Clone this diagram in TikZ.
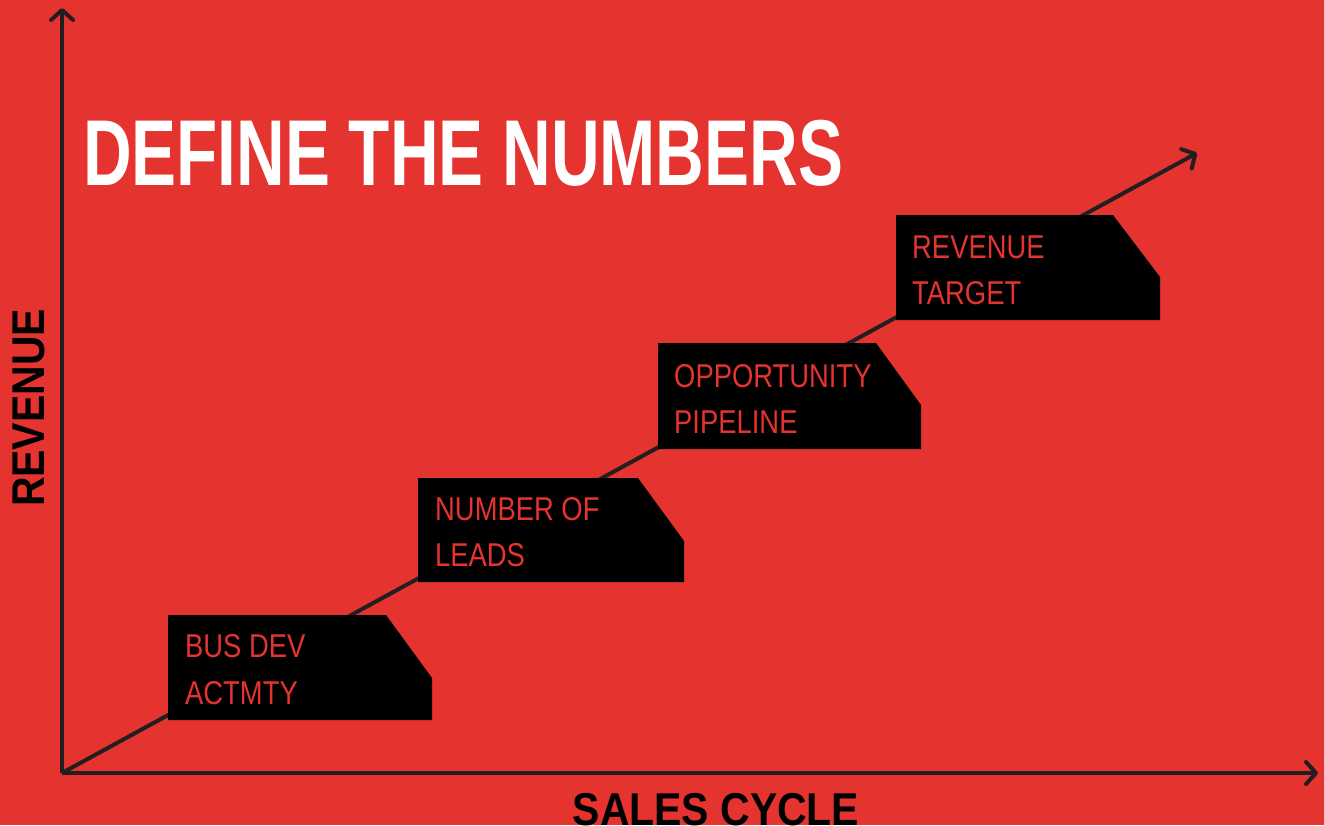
\documentclass[tikz,border=0pt]{standalone}
\usepackage{fontspec}
\setmainfont{Liberation Sans}
\newfontfamily\titlefont[FakeStretch=0.72]{Liberation Sans}
\newfontfamily\axisfont[FakeStretch=0.89]{Liberation Sans}
\newfontfamily\cardfont[FakeStretch=0.83]{Liberation Sans}
\usetikzlibrary{arrows.meta}
\definecolor{salesred}{HTML}{E5332F}
\definecolor{axisgray}{HTML}{231F20}

\begin{document}
\begin{tikzpicture}[x=1pt,y=-1pt,
    axis/.style={draw=axisgray,line width=4pt,-{Straight Barb[round,length=10pt,width=22pt,line width=4pt]}},
    card/.style={fill=black},
    cardtext/.style={anchor=base west,inner sep=0pt,text=salesred,font=\cardfont\fontsize{33}{33}\selectfont},
    axislabel/.style={inner sep=0pt,text=black,font=\axisfont\bfseries\fontsize{46}{46}\selectfont}]
    % background and frame
    \fill[salesred] (0,0) rectangle (1324,825);
    \useasboundingbox (0,0) rectangle (1324,825);
    \coordinate (O)    at (62,773);
    \coordinate (ytop) at (62,8);
    \coordinate (xend) at (1318,773);
    \coordinate (gend) at (1197,153);
    % axes and growth line
    \draw[axis] (O) -- (ytop);
    \draw[axis] (O) -- (xend);
    \draw[axis] (O) -- (gend);
    % cards
    \fill[card] (168,615) -- (386,615) -- (432,678) -- (432,720) -- (168,720) -- cycle;
    \fill[card] (418,478) -- (638,478) -- (684,541) -- (684,582) -- (418,582) -- cycle;
    \fill[card] (658,343) -- (876,343) -- (921,405) -- (921,449) -- (658,449) -- cycle;
    \fill[card] (896,215) -- (1113,215) -- (1160,277) -- (1160,320) -- (896,320) -- cycle;
    \node[cardtext] (bus1)  at (185,657) {BUS DEV};
    \node[cardtext] (bus2)  at (185,704) {ACTMTY};
    \node[cardtext] (lead1) at (435,520) {NUMBER OF};
    \node[cardtext] (lead2) at (435,566) {LEADS};
    \node[cardtext] (opp1)  at (674,387) {OPPORTUNITY};
    \node[cardtext] (opp2)  at (674,433) {PIPELINE};
    \node[cardtext] (rev1)  at (912,258) {REVENUE};
    \node[cardtext] (rev2)  at (912,304) {TARGET};
    % labels
    \node[anchor=base west,inner sep=0pt,text=white,font=\titlefont\bfseries\fontsize{93.6}{93.6}\selectfont]
        (title) at (83,185) {DEFINE THE NUMBERS};
    \node[axislabel,rotate=90] (ylab) at (28.5,408) {REVENUE};
    \node[axislabel,anchor=base] (xlab) at (716,825) {SALES CYCLE};
\end{tikzpicture}
\end{document}
